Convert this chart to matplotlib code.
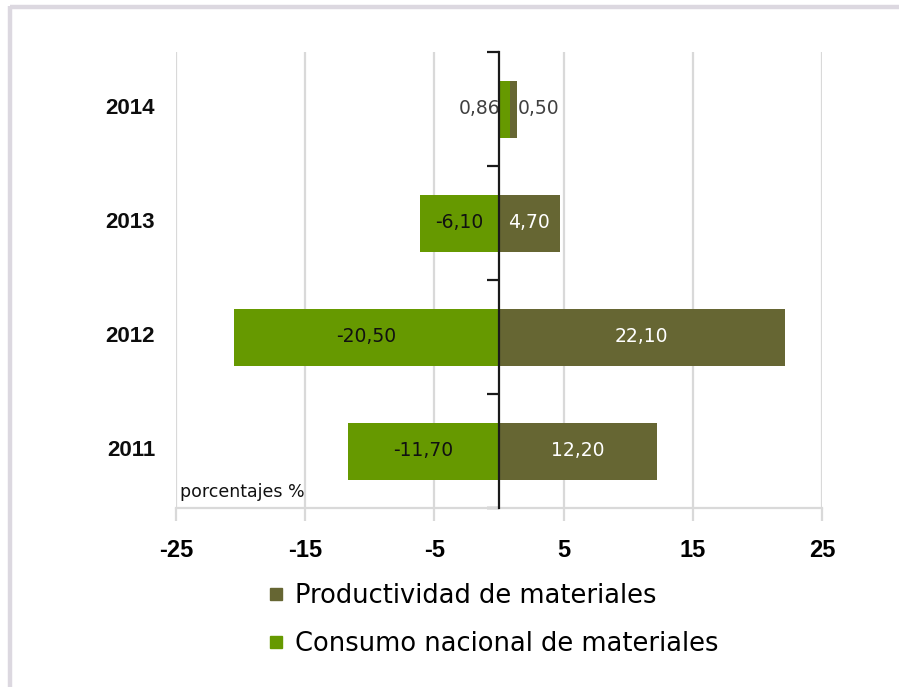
import numpy as np
import matplotlib
matplotlib.use("Agg")
import matplotlib.pyplot as plt
from matplotlib.lines import Line2D
from matplotlib.transforms import blended_transform_factory, offset_copy

plt.rcParams["axes.unicode_minus"] = False

# Data
years = ["2011", "2012", "2013", "2014"]
consumo = [-11.70, -20.50, -6.10, 0.86]
productividad = [12.20, 22.10, 4.70, 0.50]
consumo_labels = ["-11,70", "-20,50", "-6,10", "0,86"]
productividad_labels = ["12,20", "22,10", "4,70", "0,50"]
xticks = [-25, -15, -5, 5, 15, 25]

green = "#669900"
olive = "#666633"
grid_c = "#D9D9D9"

W, H = 899, 687
fig = plt.figure(figsize=(W / 100, H / 100), dpi=100)

# outer frame (top and left edges)
frame_c = "#DCD8E0"
fig.add_artist(Line2D([10 / W, 1.0], [1 - 7 / H, 1 - 7 / H], color=frame_c, lw=3.2,
                      transform=fig.transFigure, solid_capstyle="butt"))
fig.add_artist(Line2D([10 / W, 10 / W], [0.0, 1 - 5.5 / H], color=frame_c, lw=3.2,
                      transform=fig.transFigure, solid_capstyle="butt"))

ax = fig.add_axes([176 / W, 1 - 508 / H, (822 - 176) / W, (508 - 52) / H])

y = np.arange(len(years))
cons = np.array(consumo)
prod = np.array(productividad)
prod_left = np.where((cons > 0) & (prod > 0), cons, 0.0)

h = 0.5
ax.barh(y, cons, height=h, color=green, zorder=2)
ax.barh(y, prod, left=prod_left, height=h, color=olive, zorder=2)

ax.set_xlim(-25, 25)
ax.set_ylim(-0.5, len(years) - 0.5)

# vertical gridlines
ax.set_xticks(xticks)
ax.grid(axis="x", color=grid_c, lw=1.6, zorder=0)
ax.set_axisbelow(True)

for s in ["top", "right"]:
    ax.spines[s].set_visible(False)
ax.spines["bottom"].set_color(grid_c)
ax.spines["bottom"].set_linewidth(1.6)
ax.tick_params(axis="x", length=9, width=1.6, color=grid_c, pad=13)
for lab in ax.get_xticklabels():
    lab.set_fontfamily("Liberation Sans")
    lab.set_fontweight("bold")
    lab.set_fontstretch("normal")
    lab.set_fontsize(17)

# category axis at zero
ax.spines["left"].set_position(("data", 0))
ax.spines["left"].set_color("#1a1a1a")
ax.spines["left"].set_linewidth(1.6)
ax.spines["left"].set_zorder(4)
ax.set_yticks(np.arange(-0.5, len(years), 1.0))
ax.set_yticklabels([])
ax.tick_params(axis="y", length=9, width=1.6, color="#1a1a1a")

# category labels
tr = blended_transform_factory(ax.transAxes, ax.transData)
for yi, yr in zip(y, years):
    ax.text(-21 / (822 - 176), yi, yr, transform=tr, ha="right", va="center",
            fontsize=16, fontweight="bold", fontstretch="normal",
            family="Liberation Sans", color="#0d0d0d")

# value labels
fs_val = 13.5
for yi, c, p, pl, cl, plab in zip(y, cons, prod, prod_left, consumo_labels, productividad_labels):
    if c < 0:
        ax.text(c / 2, yi, cl, ha="center", va="center", fontsize=fs_val, color="#111111", zorder=3)
        ax.text(pl + p / 2, yi, plab, ha="center", va="center", fontsize=fs_val, color="white", zorder=3)
    else:
        t1 = offset_copy(ax.transData, fig=fig, x=1.5, y=0, units="dots")
        ax.text(0, yi, cl, transform=t1, ha="right", va="center", fontsize=fs_val,
                color="#404040", zorder=1)
        t2 = offset_copy(ax.transData, fig=fig, x=1.5, y=0, units="dots")
        ax.text(pl + p, yi, plab, transform=t2, ha="left", va="center", fontsize=fs_val,
                color="#404040", zorder=3)

ax.text(4 / (822 - 176), 1 - (492 - 52) / (508 - 52), "porcentajes %", transform=ax.transAxes,
        ha="left", va="center", fontsize=12.5, color="#111111")

# legend
handles = [
    Line2D([], [], marker="s", linestyle="none", markersize=8.8, color=olive),
    Line2D([], [], marker="s", linestyle="none", markersize=8.8, color=green),
]
fig.legend(handles, ["Productividad de materiales", "Consumo nacional de materiales"],
           loc="upper left", bbox_to_anchor=(268 / W, 1 - 583 / H), frameon=False,
           fontsize=18.5, handlelength=0.6, handletextpad=0.45, labelspacing=0.86,
           borderpad=0, borderaxespad=0)

fig.savefig("out.png", dpi=100)
